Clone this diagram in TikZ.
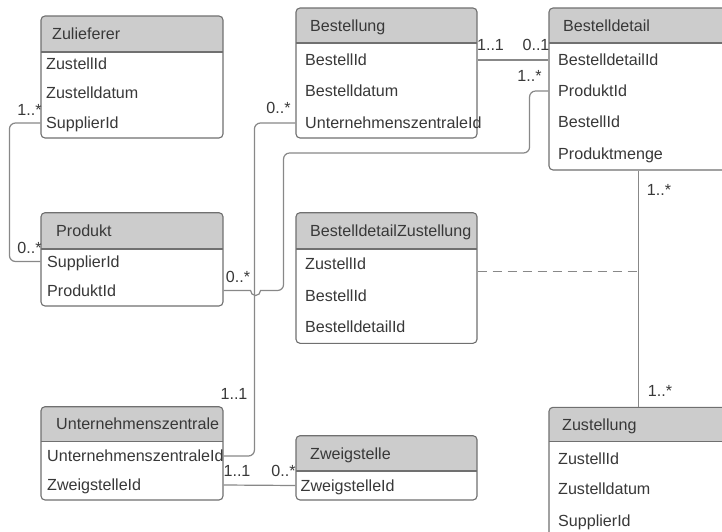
\documentclass[tikz,border=0pt]{standalone}
\usepackage{fontspec}
\setmainfont{Liberation Sans}
\usetikzlibrary{fit}
\definecolor{hdr}{HTML}{CCCCCC}
\definecolor{boxc}{HTML}{707070}
\definecolor{linec}{HTML}{888888}
\definecolor{txt}{HTML}{383838}
\tikzset{
  er/.style={draw=boxc, line width=1.1pt, rounded corners=4pt, inner sep=0pt},
  lbl/.style={font=\fontsize{16.1}{18}\selectfont, text=txt, inner sep=0pt, text height=11.5pt, text depth=0pt},
  rowtxt/.style={lbl, anchor=west},
  conn/.style={draw=linec, line width=1.2pt},
  sepline/.style={draw=boxc, line width=1.1pt},
  dashconn/.style={conn, dash pattern=on 9pt off 6pt},
}
% #1 name, #2 x1, #3 y1, #4 x2, #5 y2, #6 header bottom, #7 title, #8 title indent
\newcommand\erbox[8]{%
  \begin{scope}
    \clip[rounded corners=4pt] (#2,#3) rectangle (#4,#5);
    \fill[white] (#2,#3) rectangle (#4,#5);
    \fill[hdr] (#2,#3) rectangle (#4,#6);
  \end{scope}
  \draw[sepline] (#2,#6) -- (#4,#6);
  \node[er, fit={(#2,#3) (#4,#5)}] (#1) {};
  \node[rowtxt] (#1-t) at ({#2+#8},{(#3+#6)/2}) {#7};
}
\begin{document}
\begin{tikzpicture}[x=1pt,y=-1pt]
\useasboundingbox (0,0) rectangle (722,532);
\clip (0,0) rectangle (722,532);
\fill[white] (0,0) rectangle (722,532);

% tables
\erbox{zul}{41}{16}{223}{138}{52}{Zulieferer}{11}
\node[rowtxt] (zul-1) at (46,64) {ZustellId};
\node[rowtxt] (zul-2) at (46,93) {Zustelldatum};
\node[rowtxt] (zul-3) at (46,123) {SupplierId};

\erbox{bst}{296}{8}{477}{138}{43}{Bestellung}{14}
\node[rowtxt] (bst-1) at (305,60) {BestellId};
\node[rowtxt] (bst-2) at (305,90.7) {Bestelldatum};
\node[rowtxt] (bst-3) at (305,123) {UnternehmenszentraleId};

\erbox{bdt}{549}{8}{740}{170}{43}{Bestelldetail}{14}
\node[rowtxt] (bdt-1) at (558,60) {BestelldetailId};
\node[rowtxt] (bdt-2) at (558,91) {ProduktId};
\node[rowtxt] (bdt-3) at (558,121.7) {BestellId};
\node[rowtxt] (bdt-4) at (558,153.3) {Produktmenge};

\erbox{prd}{41}{212.7}{223}{306}{249}{Produkt}{15}
\node[rowtxt] (prd-1) at (47,261.5) {SupplierId};
\node[rowtxt] (prd-2) at (47,290.5) {ProduktId};

\erbox{bdz}{296}{212.7}{477}{343.3}{249}{BestelldetailZustellung}{14}
\node[rowtxt] (bdz-1) at (305,264) {ZustellId};
\node[rowtxt] (bdz-2) at (305,295.7) {BestellId};
\node[rowtxt] (bdz-3) at (305,326.7) {BestelldetailId};

\erbox{uz}{41}{406.7}{223}{500}{441.7}{Unternehmenszentrale}{15}
\node[rowtxt] (uz-1) at (47,456) {UnternehmenszentraleId};
\node[rowtxt] (uz-2) at (47,485) {ZweigstelleId};

\erbox{zw}{296}{435.7}{477}{500}{471}{Zweigstelle}{14}
\node[rowtxt] (zw-1) at (300.5,485.5) {ZweigstelleId};

\erbox{zst}{549}{407.3}{740}{550}{441.7}{Zustellung}{13}
\node[rowtxt] (zst-1) at (558,458.3) {ZustellId};
\node[rowtxt] (zst-2) at (558,489) {Zustelldatum};
\node[rowtxt] (zst-3) at (558,521) {SupplierId};

% connectors
\draw[conn, rounded corners=6pt] (zul-3 -| zul.west) -- ++(-31,0) |- (prd-1 -| prd.west);
\draw[conn, rounded corners=6pt] (bst-3 -| bst.west) -- ++(-41,0) |- (uz-1 -| uz.east);
\draw[conn] (prd-2 -| prd.east) -- ++(27,0) arc[start angle=180, end angle=0, radius=5]
  [rounded corners=6pt] -- ++(23,0) -- ++(0,-137.5) -- ++(246,0) |- (bdt-2 -| bdt.west);
\draw[conn] (bst-1 -| bst.east) -- (bdt-1 -| bdt.west);
\coordinate (vtop) at ([xshift=90pt]bdt.south west);
\coordinate (vbot) at ([xshift=90pt]zst.north west);
\draw[conn] (vtop) -- (vbot);
\coordinate (dstart) at ([yshift=-59pt]bdz.north east);
\draw[dashconn] (dstart) -- (dstart -| vtop);
\draw[conn] (uz-2 -| uz.east) -- (zw-1 -| zw.west);

% multiplicities
\node[lbl] (m1) at (29.5,110) {1..*};
\node[lbl] (m2) at (29.5,248) {0..*};
\node[lbl] (m3) at (278.5,108) {0..*};
\node[lbl] (m4) at (490.5,44.5) {1..1};
\node[lbl] (m5) at (536,44.5) {0..1};
\node[lbl] (m6) at (529.5,76) {1..*};
\node[lbl] (m7) at (238,277) {0..*};
\node[lbl] (m8) at (659,190) {1..*};
\node[lbl] (m9) at (660,391) {1..*};
\node[lbl] (m10) at (234,394) {1..1};
\node[lbl] (m11) at (237,471) {1..1};
\node[lbl] (m12) at (283.5,471) {0..*};
\end{tikzpicture}
\end{document}
